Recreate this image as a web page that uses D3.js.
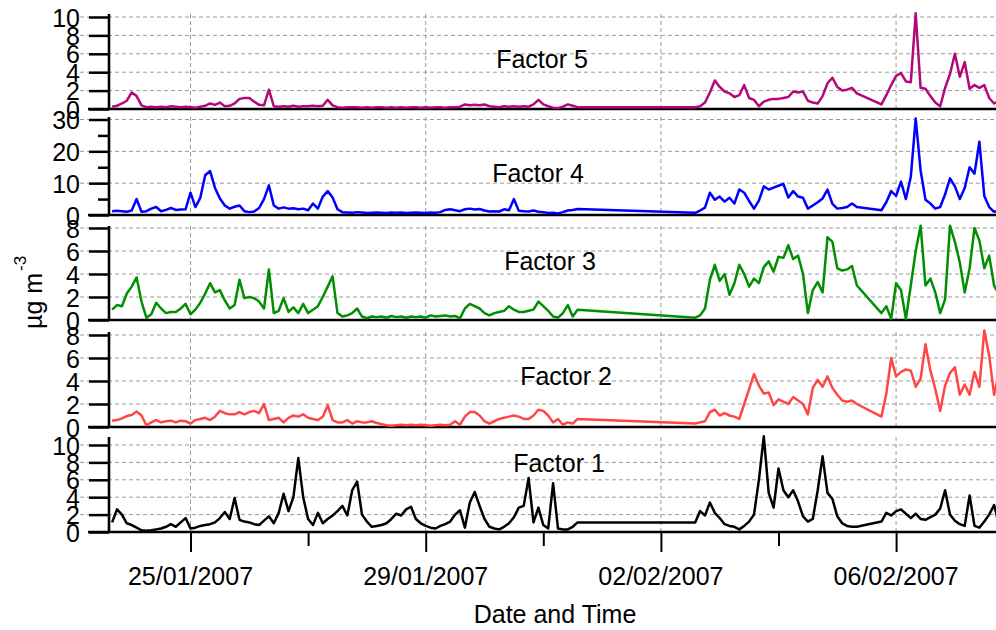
<!DOCTYPE html>
<html><head><meta charset="utf-8">
<script src="https://cdn.jsdelivr.net/npm/d3@7"></script>
<style>
body{margin:0;background:#fff}
svg{display:block}
text{font-family:"Liberation Sans",Arial,Helvetica,sans-serif;fill:#000}
</style>
</head><body><svg id="c" width="996" height="630"></svg>
<script>
// Sampling times: hours since 2007-01-23 00:00 (three recorded segments, gaps in between)
const hoursA = d3.range(16, 207, 2);   // 96 samples
const hoursB = d3.range(254, 321, 2);  // 34 samples
const hoursC = d3.range(330, 379, 2);  // 25 samples

// Factor 5 (µg m-3)
const f5A = [0.25,0.35,0.6,0.9,1.8,1.4,0.4,0.2,0.25,0.2,
  0.25,0.2,0.3,0.25,0.2,0.25,0.2,0.15,0.25,0.35,
  0.6,0.45,0.7,0.3,0.35,0.6,1.1,1.2,1.2,0.8,
  0.45,0.4,2.1,0.3,0.25,0.3,0.25,0.35,0.25,0.3,
  0.3,0.35,0.3,0.35,1.0,0.4,0.2,0.15,0.2,0.2,
  0.2,0.15,0.2,0.15,0.2,0.2,0.15,0.2,0.15,0.2,
  0.15,0.2,0.2,0.15,0.2,0.15,0.2,0.2,0.15,0.2,
  0.2,0.25,0.5,0.4,0.45,0.4,0.5,0.3,0.25,0.2,
  0.3,0.25,0.3,0.25,0.3,0.25,0.5,1.0,0.5,0.3,
  0.15,0.1,0.25,0.5,0.35,0.2];
const f5B = [0.2,0.3,0.7,1.8,3.1,2.4,1.9,1.7,1.3,1.5,
  2.6,1.2,1.0,0.3,0.8,1.0,1.1,1.1,1.2,1.3,
  1.9,1.8,1.9,0.9,0.7,0.6,1.4,2.8,3.4,2.4,
  2.0,2.1,2.3,1.7];
const f5C = [0.5,1.5,2.6,3.6,3.9,3.0,2.9,10.4,2.3,2.2,
  1.4,0.7,0.3,2.3,3.8,6.0,3.5,5.1,2.2,2.6,
  2.3,2.6,1.2,0.6,0.9];

// Factor 4
const f4A = [1.2,1.3,1.2,1.0,1.4,5.0,1.0,1.2,2.0,2.5,
  1.2,1.6,2.2,1.6,1.7,1.8,7.0,2.5,5.4,12.5,
  13.8,8.5,5.2,3.0,2.0,2.6,3.0,1.2,0.9,1.1,
  2.2,5.0,9.3,3.0,2.0,2.4,2.0,2.1,1.8,2.0,
  1.5,3.6,2.0,5.8,7.5,5.5,1.8,0.9,0.8,0.7,
  0.9,0.8,0.6,0.7,0.8,0.7,0.6,0.8,0.7,0.8,
  0.6,0.7,0.8,0.7,0.6,0.8,0.7,0.9,1.6,1.8,
  1.5,1.2,1.8,2.0,1.7,1.9,1.4,1.1,1.2,1.1,
  1.8,1.5,5.0,1.3,1.2,1.1,1.4,1.0,0.9,0.6,
  0.7,0.5,0.9,1.4,1.6,1.9];
const f4B = [0.7,1.4,2.3,7.0,4.8,5.8,4.2,5.4,3.6,8.0,
  7.0,4.4,2.0,4.5,9.0,8.0,8.6,9.2,9.8,5.5,
  7.5,5.8,5.4,2.0,3.0,4.0,5.2,8.0,3.5,2.0,
  2.2,2.5,3.6,2.5];
const f4C = [1.5,4.0,7.5,6.0,10.5,5.0,12.0,30.3,14.0,4.8,
  3.6,2.0,2.5,6.5,11.5,9.0,5.0,8.5,15.0,13.0,
  23.0,6.0,2.5,1.0,1.5];

// Factor 3
const f3A = [0.9,1.3,1.2,2.3,2.9,3.7,1.6,0.2,0.5,1.5,
  1.0,0.6,0.7,0.7,1.0,1.4,0.5,0.9,1.5,2.3,
  3.2,2.4,2.6,1.7,1.0,1.3,3.5,1.9,2.0,1.9,
  1.6,1.0,4.4,0.6,0.8,1.9,0.7,1.1,0.6,1.4,
  0.6,0.9,1.2,2.0,2.9,3.8,0.6,0.3,0.4,0.6,
  1.0,0.3,0.15,0.3,0.25,0.3,0.2,0.35,0.25,0.3,
  0.2,0.3,0.25,0.3,0.2,0.4,0.3,0.35,0.4,0.3,
  0.35,0.15,1.0,1.4,1.2,1.0,0.6,0.4,0.6,0.7,
  0.8,1.2,0.9,0.7,0.7,0.8,0.9,1.6,1.2,0.8,
  0.3,0.2,0.6,1.3,0.3,0.9];
const f3B = [0.2,0.4,1.0,3.5,4.8,3.4,4.0,2.2,3.2,4.8,
  4.0,2.9,3.6,3.2,4.6,5.1,4.2,5.5,5.4,6.5,
  5.3,5.6,4.0,0.6,2.6,3.3,2.4,7.2,6.8,4.5,
  4.3,4.4,4.7,3.0];
const f3C = [0.6,1.2,0.1,3.2,2.6,0.1,3.0,6.0,8.2,3.0,
  3.6,2.4,0.6,1.8,8.2,6.8,5.0,2.4,4.5,8.0,
  6.9,4.5,5.6,3.0,2.2];

// Factor 2
const f2A = [0.55,0.6,0.75,0.95,1.05,1.35,1.0,0.15,0.4,0.6,
  0.4,0.5,0.55,0.4,0.55,0.5,0.3,0.6,0.7,0.8,
  0.6,0.9,1.4,1.2,1.1,1.1,1.3,1.1,1.3,1.4,
  1.2,2.0,0.6,0.7,0.8,0.4,0.8,1.0,0.9,1.1,
  0.8,0.7,0.6,0.9,1.9,0.6,0.4,0.4,0.6,0.3,
  0.5,0.4,0.4,0.5,0.35,0.25,0.15,0.1,0.15,0.2,
  0.15,0.2,0.15,0.2,0.15,0.1,0.15,0.2,0.15,0.2,
  0.5,0.2,0.9,1.3,1.3,1.0,0.5,0.3,0.5,0.7,
  0.8,0.9,1.0,0.9,0.7,0.7,1.0,1.5,1.4,1.0,
  0.4,0.7,0.2,0.4,0.3,0.7];
const f2B = [0.3,0.4,0.5,1.3,1.5,1.0,1.2,1.0,0.9,0.7,
  2.0,3.3,4.6,3.6,2.9,3.0,1.9,2.4,2.2,2.0,
  2.6,2.3,2.0,1.1,3.4,4.1,3.5,4.4,3.4,2.8,
  2.3,2.2,2.3,2.0];
const f2C = [0.9,2.9,6.0,4.4,4.8,5.0,4.9,3.5,4.2,7.2,
  4.9,3.3,1.4,3.6,4.7,5.2,2.8,3.7,2.8,4.8,
  3.5,8.4,6.2,2.8,4.8];

// Factor 1
const f1A = [1.1,2.6,2.0,1.0,0.8,0.5,0.2,0.15,0.2,0.3,
  0.4,0.6,0.9,0.6,1.1,1.6,0.4,0.5,0.7,0.8,
  0.9,1.1,1.6,2.3,1.5,3.9,1.4,1.2,1.1,0.9,
  0.8,1.3,1.8,1.0,2.2,4.4,2.4,4.0,8.5,4.0,
  1.5,0.8,2.2,1.0,1.5,1.9,2.4,3.0,1.9,4.8,
  5.8,2.0,1.2,0.6,0.7,0.8,1.0,1.5,2.1,1.9,
  2.6,2.9,1.5,1.0,0.7,0.5,0.4,0.7,0.9,1.2,
  2.0,2.5,0.5,3.4,4.6,3.0,1.5,0.6,0.4,0.3,
  0.6,1.0,1.7,2.8,3.0,6.2,1.1,2.8,0.8,0.4,
  5.6,0.4,0.3,0.3,0.6,1.1];
const f1B = [1.1,2.4,1.9,3.4,2.2,1.6,0.9,0.7,0.6,0.3,
  0.7,1.2,2.0,6.0,11.0,4.5,2.8,7.3,4.8,4.0,
  4.8,3.5,1.8,1.2,1.5,4.8,8.7,4.5,3.8,1.8,
  1.0,0.7,0.6,0.6];
const f1C = [1.2,2.2,1.9,2.4,2.6,2.1,1.6,2.1,1.5,1.4,
  1.7,2.0,2.7,4.8,2.0,1.3,0.9,0.7,4.2,0.7,
  0.5,1.2,2.0,3.1,0.8];

// Axis ticks
const f5Ticks = [0,2,4,6,8,10];
const f4Ticks = [0,10,20,30];
const f4Minor = [5,15,25];
const f3Ticks = [0,2,4,6,8];
const f2Ticks = [0,2,4,6,8];
const f1Ticks = [0,2,4,6,8,10];
const xMajor = ["2007-01-25","2007-01-29","2007-02-02","2007-02-06"];
const xMinor = ["2007-01-27","2007-01-31","2007-02-04"];
const factorNames = ["Factor 5","Factor 4","Factor 3","Factor 2","Factor 1"];

// ---------- drawing ----------
const svg = d3.select("#c");
const t0 = Date.UTC(2007,0,23);
const toDate = h => new Date(t0 + h*3600e3);
const parseD = d3.utcParse("%Y-%m-%d");
const fmt = d3.utcFormat("%d/%m/%Y");

const XL = 109, XR = 996;
const x = d3.scaleUtc()
  .domain([parseD("2007-01-25"), parseD("2007-02-06")])
  .range([190.5, 896.1]);

function build(A,B,C){
  return [
    ...hoursA.map((h,i)=>({t:toDate(h),v:A[i]})),
    ...hoursB.map((h,i)=>({t:toDate(h),v:B[i]})),
    ...hoursC.map((h,i)=>({t:toDate(h),v:C[i]}))
  ];
}

const panels = [
  {data:build(f5A,f5B,f5C), color:"#b3087b", ticks:f5Ticks, minor:[], y0:109, yTop:17,    axisTop:14,  lx:542, ly:68},
  {data:build(f4A,f4B,f4C), color:"#0000ff", ticks:f4Ticks, minor:f4Minor, y0:215, yTop:119.5, axisTop:117, lx:538, ly:182},
  {data:build(f3A,f3B,f3C), color:"#008f00", ticks:f3Ticks, minor:[], y0:320, yTop:228,   axisTop:226, lx:550, ly:270},
  {data:build(f2A,f2B,f2C), color:"#ff4646", ticks:f2Ticks, minor:[], y0:427, yTop:335,   axisTop:332, lx:566, ly:385},
  {data:build(f1A,f1B,f1C), color:"#000000", ticks:f1Ticks, minor:[], y0:532, yTop:445,   axisTop:437, lx:559, ly:472}
];

svg.append("defs").append("clipPath").attr("id","clip")
  .append("rect").attr("x",XL).attr("y",0).attr("width",XR-XL).attr("height",630);

const gGrid = svg.append("g");
const gAxis = svg.append("g");
const gData = svg.append("g").attr("clip-path","url(#clip)");
const gText = svg.append("g");

panels.forEach((p,pi)=>{
  const topVal = p.ticks[p.ticks.length-1];
  const y = d3.scaleLinear().domain([0, topVal]).range([p.y0, p.yTop]);

  gGrid.selectAll(null).data(p.ticks.filter(t=>t>0)).enter().append("line")
    .attr("x1",80).attr("x2",XR).attr("y1",d=>y(d)).attr("y2",d=>y(d))
    .attr("stroke","#9a9a9a").attr("stroke-width",1).attr("stroke-dasharray","4,3");
  gGrid.selectAll(null).data(xMajor).enter().append("line")
    .attr("x1",d=>x(parseD(d))).attr("x2",d=>x(parseD(d)))
    .attr("y1",p.axisTop).attr("y2",p.y0)
    .attr("stroke","#9a9a9a").attr("stroke-width",1).attr("stroke-dasharray","4,3");

  const ax = gAxis.append("g").attr("transform",`translate(${XL},0)`)
    .call(d3.axisLeft(y).tickValues(p.ticks).tickSize(20).tickSizeOuter(0).tickPadding(9).tickFormat(d3.format("d")));
  ax.select(".domain").remove();
  ax.selectAll(".tick line").attr("stroke","#000").attr("stroke-width",2.5);
  ax.selectAll(".tick text").attr("font-size",25).attr("font-family","Liberation Sans, Arial, sans-serif").attr("fill","#000").attr("dy","0.36em");
  if(p.minor.length){
    const am = gAxis.append("g").attr("transform",`translate(${XL},0)`)
      .call(d3.axisLeft(y).tickValues(p.minor).tickSize(11).tickSizeOuter(0).tickFormat(""));
    am.select(".domain").remove();
    am.selectAll(".tick line").attr("stroke","#000").attr("stroke-width",2.5);
  }
  gAxis.append("line").attr("x1",XL).attr("x2",XL).attr("y1",p.axisTop).attr("y2",p.y0+1)
    .attr("stroke","#000").attr("stroke-width",2.6);
  gAxis.append("line").attr("x1",88).attr("x2",XR).attr("y1",p.y0).attr("y2",p.y0)
    .attr("stroke","#000").attr("stroke-width",2.6);

  const line = d3.line().x(d=>x(d.t)).y(d=>y(d.v));
  gData.append("path").datum(p.data).attr("d",line)
    .attr("fill","none").attr("stroke",p.color).attr("stroke-width",2.5)
    .attr("stroke-linejoin","round");

  gText.append("text").attr("x",p.lx).attr("y",p.ly).attr("text-anchor","middle")
    .attr("font-size",25).text(factorNames[pi]);
});

const xb = gAxis.append("g").attr("transform","translate(0,532)")
  .call(d3.axisBottom(x).tickValues(xMajor.map(parseD)).tickSize(20).tickSizeOuter(0).tickFormat(""));
xb.select(".domain").remove();
xb.selectAll(".tick line").attr("stroke","#000").attr("stroke-width",2);
const xm = gAxis.append("g").attr("transform","translate(0,532)")
  .call(d3.axisBottom(x).tickValues(xMinor.map(parseD)).tickSize(14).tickSizeOuter(0).tickFormat(""));
xm.select(".domain").remove();
xm.selectAll(".tick line").attr("stroke","#000").attr("stroke-width",2);

gText.selectAll(null).data(xMajor).enter().append("text")
  .attr("x",d=>x(parseD(d))).attr("y",585).attr("text-anchor","middle")
  .attr("font-size",25).text(d=>fmt(parseD(d)));

gText.append("text").attr("x",555).attr("y",623).attr("text-anchor","middle")
  .attr("font-size",25).text("Date and Time");

const yl = gText.append("text").attr("transform","translate(42,329) rotate(-90)")
  .attr("text-anchor","start").attr("font-size",25);
yl.append("tspan").text("µg m");
yl.append("tspan").attr("font-size",17).attr("dx",2).attr("dy",-16).text("-3");
</script>
</body></html>
